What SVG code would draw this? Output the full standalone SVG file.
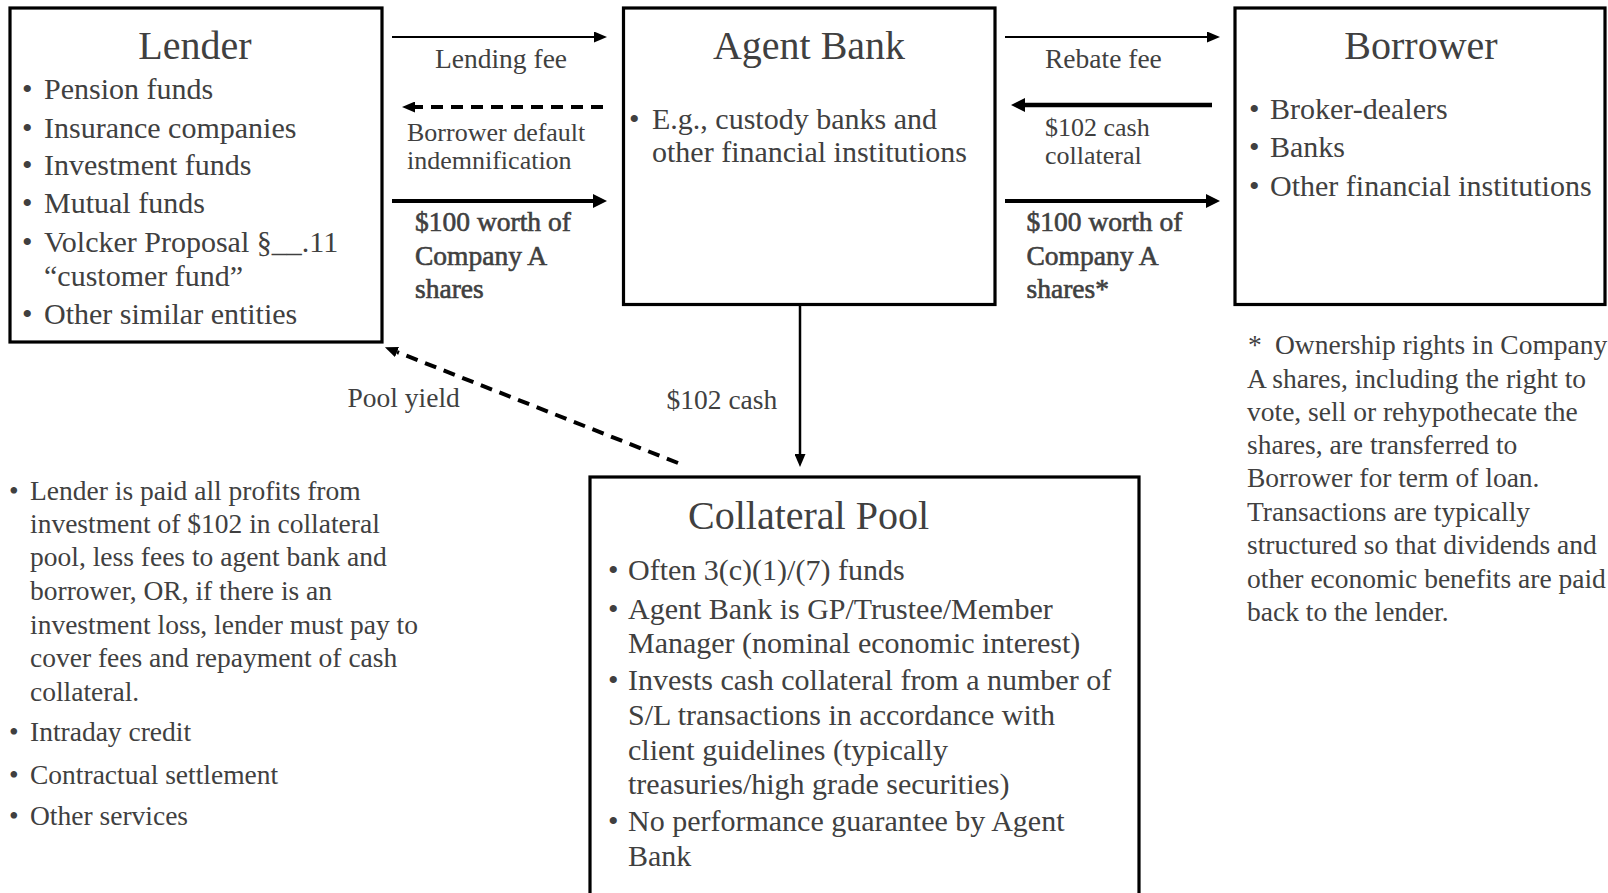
<svg xmlns="http://www.w3.org/2000/svg" width="1608" height="893" viewBox="0 0 1608 893">
<style>
.box{fill:#fff;stroke:#000;stroke-width:3.2}
.t{font-family:"Liberation Serif","Times New Roman",serif;fill:#404040}
.title{font-size:40px}
.b{font-size:30px}
.lbl{font-size:27.5px}
.lbl2{font-size:26px}
.note{font-size:27.5px}
.bold{stroke:#404040;stroke-width:0.6}
.ln{stroke:#000;fill:none}
</style>
<defs>
<marker id="ah" markerUnits="userSpaceOnUse" markerWidth="13" markerHeight="11" refX="0" refY="5.5" orient="auto"><path d="M0,0 L13,5.5 L0,11 z" fill="#000"/></marker>
<marker id="ahb" markerUnits="userSpaceOnUse" markerWidth="14" markerHeight="14" refX="0" refY="7" orient="auto"><path d="M0,0 L14,7 L0,14 z" fill="#000"/></marker>
</defs>
<rect width="1608" height="893" fill="#fff"/>

<g id="lender">
<rect class="box" x="10" y="8" width="372" height="334"/>
<text class="t title" x="195" y="59" text-anchor="middle">Lender</text>
<g class="t b">
<text x="22" y="99">•</text><text x="44" y="99">Pension funds</text>
<text x="22" y="138">•</text><text x="44" y="138">Insurance companies</text>
<text x="22" y="175">•</text><text x="44" y="175">Investment funds</text>
<text x="22" y="213">•</text><text x="44" y="213">Mutual funds</text>
<text x="22" y="252">•</text><text x="44" y="252">Volcker Proposal §__.11</text>
<text x="44" y="286">“customer fund”</text>
<text x="22" y="324">•</text><text x="44" y="324">Other similar entities</text>
</g>
</g>

<g id="agent-bank">
<rect class="box" x="623.5" y="8" width="371.5" height="296.5"/>
<text class="t title" x="809" y="59" text-anchor="middle">Agent Bank</text>
<g class="t b">
<text x="629" y="129">•</text><text x="652" y="129">E.g., custody banks and</text>
<text x="652" y="162">other financial institutions</text>
</g>
</g>

<g id="borrower">
<rect class="box" x="1235" y="8" width="370" height="296.5"/>
<text class="t title" x="1421" y="59" text-anchor="middle">Borrower</text>
<g class="t b">
<text x="1249" y="119">•</text><text x="1270" y="119">Broker-dealers</text>
<text x="1249" y="157">•</text><text x="1270" y="157">Banks</text>
<text x="1249" y="196">•</text><text x="1270" y="196">Other financial institutions</text>
</g>
</g>

<g id="collateral-pool">
<rect class="box" x="590" y="477" width="549" height="420"/>
<text class="t title" x="688" y="529">Collateral Pool</text>
<g class="t b">
<text x="608" y="580">•</text><text x="628" y="580">Often 3(c)(1)/(7) funds</text>
<text x="608" y="619">•</text><text x="628" y="619">Agent Bank is GP/Trustee/Member</text>
<text x="628" y="653">Manager (nominal economic interest)</text>
<text x="608" y="690">•</text><text x="628" y="690">Invests cash collateral from a number of</text>
<text x="628" y="725">S/L transactions in accordance with</text>
<text x="628" y="760">client guidelines (typically</text>
<text x="628" y="793.5">treasuries/high grade securities)</text>
<text x="608" y="831">•</text><text x="628" y="831">No performance guarantee by Agent</text>
<text x="628" y="866">Bank</text>
</g>
</g>

<g id="connectors">
<line class="ln" x1="392" y1="37" x2="594" y2="37" stroke-width="2.2" marker-end="url(#ah)"/>
<line class="ln" x1="603" y1="107" x2="415" y2="107" stroke-width="4" stroke-dasharray="12 8" marker-end="url(#ah)"/>
<line class="ln" x1="392" y1="201" x2="593" y2="201" stroke-width="4.2" marker-end="url(#ahb)"/>
<line class="ln" x1="1005" y1="37" x2="1207" y2="37" stroke-width="2.2" marker-end="url(#ah)"/>
<line class="ln" x1="1212" y1="105" x2="1025" y2="105" stroke-width="4.5" marker-end="url(#ahb)"/>
<line class="ln" x1="1005" y1="201" x2="1206" y2="201" stroke-width="4.2" marker-end="url(#ahb)"/>
<line class="ln" x1="800" y1="305" x2="800" y2="454" stroke-width="2.5" marker-end="url(#ah)"/>
<line class="ln" x1="678" y1="463" x2="397" y2="352" stroke-width="4" stroke-dasharray="12 8" marker-end="url(#ah)"/>
</g>

<g id="connector-labels" class="t lbl">
<text x="501" y="67.5" text-anchor="middle">Lending fee</text>
<text class="lbl2" x="407" y="141">Borrower default</text>
<text class="lbl2" x="407" y="169">indemnification</text>
<g class="bold">
<text x="415" y="231">$100 worth of</text>
<text x="415" y="264.5">Company A</text>
<text x="415" y="297.5">shares</text>
<text x="1026.5" y="231">$100 worth of</text>
<text x="1026.5" y="264.5">Company A</text>
<text x="1026.5" y="297.5">shares*</text>
</g>
<text x="1045" y="67.5">Rebate fee</text>
<text class="lbl2" x="1045" y="135.5">$102 cash</text>
<text class="lbl2" x="1045" y="164">collateral</text>
<text x="347.5" y="407">Pool yield</text>
<text x="666.5" y="409">$102 cash</text>
</g>

<g id="lender-notes" class="t note">
<text x="9" y="499.5">•</text><text x="30" y="499.5">Lender is paid all profits from</text>
<text x="30" y="532.5">investment of $102 in collateral</text>
<text x="30" y="566">pool, less fees to agent bank and</text>
<text x="30" y="600">borrower, OR, if there is an</text>
<text x="30" y="634">investment loss, lender must pay to</text>
<text x="30" y="666.5">cover fees and repayment of cash</text>
<text x="30" y="700.5">collateral.</text>
<text x="9" y="740.5">•</text><text x="30" y="740.5">Intraday credit</text>
<text x="9" y="783.5">•</text><text x="30" y="783.5">Contractual settlement</text>
<text x="9" y="824.5">•</text><text x="30" y="824.5">Other services</text>
</g>

<g id="footnote" class="t note">
<text x="1248" y="354">*</text><text x="1275" y="354">Ownership rights in Company</text>
<text x="1247" y="387.5">A shares, including the right to</text>
<text x="1247" y="420.5">vote, sell or rehypothecate the</text>
<text x="1247" y="454">shares, are transferred to</text>
<text x="1247" y="487">Borrower for term of loan.</text>
<text x="1247" y="521">Transactions are typically</text>
<text x="1247" y="554">structured so that dividends and</text>
<text x="1247" y="587.5">other economic benefits are paid</text>
<text x="1247" y="621">back to the lender.</text>
</g>
</svg>
